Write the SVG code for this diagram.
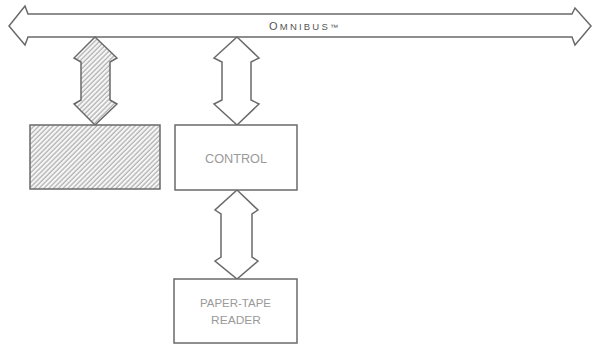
<svg xmlns="http://www.w3.org/2000/svg" width="592" height="344" viewBox="0 0 592 344">
  <defs>
    <pattern id="hatch" patternUnits="userSpaceOnUse" width="3.4" height="3.4" patternTransform="rotate(45)">
      <rect width="3.4" height="3.4" fill="#f7f7f7"/>
      <line x1="1" y1="0" x2="1" y2="3.4" stroke="#939393" stroke-width="0.9"/>
    </pattern>
    <style>
      .ln { fill: #fff; stroke: #6a6a6a; stroke-width: 1.5; stroke-linejoin: miter; }
      .ht { fill: url(#hatch); stroke: #6a6a6a; stroke-width: 1.5; }
      .lbl { font-family: "Liberation Sans", "DejaVu Sans", sans-serif; fill: #9a9a9a; text-anchor: middle; }
      .bus { font-family: "Liberation Sans", "DejaVu Sans", sans-serif; fill: #555; }
    </style>
  </defs>

  <g id="omnibus">
    <path class="ln" d="M9,26 L25,6 L28,14 L572,14 L575,8 L591,26 L575,45 L572,37 L28,37 L25,45 Z"/>
    <text class="bus" x="269" y="29.5" letter-spacing="2.2"><tspan font-size="11">O</tspan><tspan font-size="9.5">MNIBUS</tspan><tspan font-size="8" letter-spacing="0">™</tspan></text>
  </g>

  <g id="connectors">
    <path class="ht" d="M95,37 L117,58 L110,62 L110,100 L117,104 L95,125 L74,104 L81,100 L81,62 L74,58 Z"/>
    <path class="ln" d="M237,37 L259,58 L251,62 L251,100 L259,104 L237,125 L214,104 L222,100 L222,62 L214,58 Z"/>
    <path class="ln" d="M237,190 L258,210 L252,214 L252,257 L258,261 L237,279 L215,261 L221,257 L221,214 L215,210 Z"/>
  </g>

  <g id="device">
    <rect class="ht" x="30" y="125" width="130" height="64"/>
  </g>

  <g id="control">
    <rect class="ln" x="175" y="125" width="122" height="65"/>
    <text class="lbl" x="236" y="162.5" font-size="12" textLength="62" lengthAdjust="spacingAndGlyphs">CONTROL</text>
  </g>

  <g id="paper-tape-reader">
    <rect class="ln" x="174" y="279" width="123" height="64"/>
    <text class="lbl" x="235.5" y="307" font-size="11.5" textLength="71" lengthAdjust="spacingAndGlyphs">PAPER-TAPE</text>
    <text class="lbl" x="236" y="324" font-size="11.5" textLength="50" lengthAdjust="spacingAndGlyphs">READER</text>
  </g>
</svg>
